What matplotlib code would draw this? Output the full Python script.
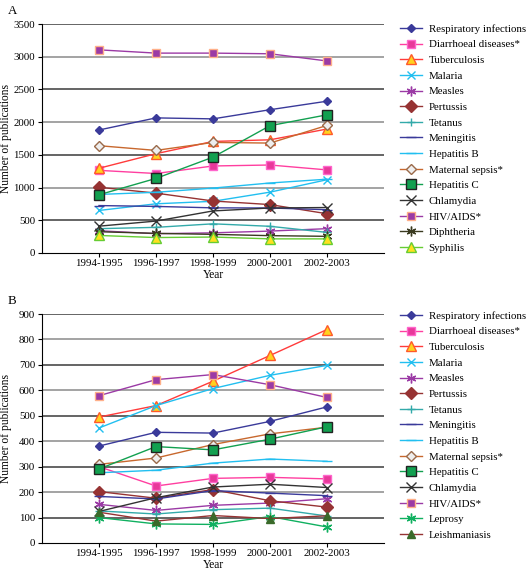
import matplotlib

matplotlib.use("Agg")
import matplotlib.pyplot as plt

plt.rcParams["font.family"] = ["Liberation Serif", "DejaVu Serif"]

YEARS = ["1994-1995", "1996-1997", "1998-1999", "2000-2001", "2002-2003"]

# Panel A: number of publications per disease
A_NAMES = ["Respiratory infections", "Diarrhoeal diseases*", "Tuberculosis", "Malaria",
           "Measles", "Pertussis", "Tetanus", "Meningitis", "Hepatitis B",
           "Maternal sepsis*", "Hepatitis C", "Chlamydia", "HIV/AIDS*", "Diphtheria",
           "Syphilis"]
a_respiratory = [1880, 2065, 2050, 2190, 2320]
a_diarrhoeal = [1263, 1215, 1330, 1345, 1270]
a_tuberculosis = [1295, 1518, 1705, 1730, 1895]
a_malaria = [650, 752, 790, 930, 1120]
a_measles = [340, 295, 308, 335, 372]
a_pertussis = [1005, 915, 795, 740, 600]
a_tetanus = [372, 392, 446, 408, 315]
a_meningitis = [725, 712, 690, 688, 662]
a_hepatitis_b = [895, 928, 992, 1070, 1128]
a_maternal = [1640, 1568, 1690, 1680, 1950]
a_hepatitis_c = [890, 1140, 1465, 1946, 2112]
a_chlamydia = [410, 488, 643, 688, 695]
a_hiv = [3105, 3055, 3055, 3045, 2935]
a_diphtheria = [325, 300, 285, 265, 255]
a_syphilis = [268, 236, 244, 216, 216]
A_VALUES = [a_respiratory, a_diarrhoeal, a_tuberculosis, a_malaria, a_measles,
            a_pertussis, a_tetanus, a_meningitis, a_hepatitis_b, a_maternal,
            a_hepatitis_c, a_chlamydia, a_hiv, a_diphtheria, a_syphilis]

# Panel B
B_NAMES = ["Respiratory infections", "Diarrhoeal diseases*", "Tuberculosis", "Malaria",
           "Measles", "Pertussis", "Tetanus", "Meningitis", "Hepatitis B",
           "Maternal sepsis*", "Hepatitis C", "Chlamydia", "HIV/AIDS*", "Leprosy",
           "Leishmaniasis"]
b_respiratory = [381, 435, 432, 478, 535]
b_diarrhoeal = [300, 224, 254, 258, 252]
b_tuberculosis = [495, 540, 636, 737, 839]
b_malaria = [452, 540, 607, 659, 698]
b_measles = [152, 128, 148, 157, 174]
b_pertussis = [202, 176, 210, 166, 141]
b_tetanus = [126, 114, 131, 137, 106]
b_meningitis = [183, 173, 206, 196, 186]
b_hepatitis_b = [276, 286, 314, 330, 321]
b_maternal = [309, 334, 387, 429, 455]
b_hepatitis_c = [291, 379, 366, 408, 457]
b_chlamydia = [124, 178, 220, 231, 218]
b_hiv = [579, 642, 662, 622, 572]
b_leprosy = [100, 75, 73, 104, 63]
b_leishmaniasis = [121, 86, 108, 96, 107]
B_VALUES = [b_respiratory, b_diarrhoeal, b_tuberculosis, b_malaria, b_measles,
            b_pertussis, b_tetanus, b_meningitis, b_hepatitis_b, b_maternal,
            b_hepatitis_c, b_chlamydia, b_hiv, b_leprosy, b_leishmaniasis]

# (line colour, marker, face colour, edge colour, marker size)
STYLE = {
    "Respiratory infections": ("#3a3a9a", "D", "#3a3a9a", "#3a3a9a", 4.5),
    "Diarrhoeal diseases*": ("#ff3fa0", "s", "#e8389a", "#ff66cc", 6),
    "Tuberculosis": ("#ff3b3b", "^", "#ffd21f", "#ff5a2a", 6.5),
    "Malaria": ("#22bff0", "x", "#22bff0", "#22bff0", 6),
    "Measles": ("#9b3aa5", (6, 2, 0), "#9b3aa5", "#9b3aa5", 7),
    "Pertussis": ("#963333", "D", "#963333", "#963333", 6),
    "Tetanus": ("#33aaaa", "+", "#33aaaa", "#33aaaa", 6),
    "Meningitis": ("#3a3a9a", "_", "#3a3a9a", "#3a3a9a", 7),
    "Hepatitis B": ("#22bff0", "_", "#22bff0", "#22bff0", 7),
    "Maternal sepsis*": ("#c8682e", "D", "#eeeeee", "#9a6a4a", 5.5),
    "Hepatitis C": ("#12a050", "s", "#12a050", "#222222", 6.5),
    "Chlamydia": ("#333333", "x", "#333333", "#333333", 6.5),
    "HIV/AIDS*": ("#9b3aa5", "s", "#9b3aa5", "#ffb08a", 5.5),
    "Diphtheria": ("#3a3a20", (6, 2, 0), "#3a3a20", "#3a3a20", 7),
    "Syphilis": ("#66cc33", "^", "#ffe01f", "#66cc33", 6.5),
    "Leprosy": ("#10b060", (6, 2, 0), "#10b060", "#10b060", 7),
    "Leishmaniasis": ("#963333", "^", "#3a6a2a", "#3a6a2a", 6),
}

FS = 7.8


def draw_panel(fig, rect, names, values, ymax, step, letter, leg_y):
    ax = fig.add_axes(rect)
    xs = list(range(1, len(YEARS) + 1))
    for name, ys in zip(names, values):
        color, marker, face, edge, ms = STYLE[name]
        ax.plot(xs, ys, color=color, linewidth=1.0, marker=marker, markersize=ms,
                markerfacecolor=face, markeredgecolor=edge, markeredgewidth=1.0,
                label=name, zorder=3)
    ax.set_xlim(0, 6)
    ax.set_ylim(0, ymax)
    ax.set_xticks(xs)
    ax.set_xticklabels(YEARS, fontsize=FS)
    ticks = list(range(0, ymax + 1, step))
    ax.set_yticks(ticks)
    ax.tick_params(axis="y", labelsize=FS, length=3, direction="out", pad=2)
    ax.tick_params(axis="x", length=3, direction="out", pad=1.5)
    for i, t in enumerate(ticks[1:]):
        col = "#8a8a8a" if i % 2 else "#3a3a3a"
        ax.axhline(t, color=col, linewidth=1.1, zorder=1)
    for side in ("top", "right"):
        ax.spines[side].set_visible(False)
    ax.set_ylabel("Number of publications", fontsize=FS + 0.5)
    ax.yaxis.set_label_coords(-0.088, 0.5)
    ax.set_xlabel("Year", fontsize=FS + 0.5, va="center")
    ax.xaxis.set_label_coords(0.5, -0.094)
    fig.text(0.014, rect[1] + rect[3] + 0.012, letter, fontsize=FS + 1.5, va="bottom")
    ax.legend(loc="upper left", bbox_to_anchor=(0.757, leg_y), bbox_transform=fig.transFigure,
              frameon=False, fontsize=FS, handlelength=2.0, handletextpad=0.6,
              labelspacing=0.56, borderaxespad=0, borderpad=0)
    return ax


fig = plt.figure(figsize=(5.29, 5.72), dpi=100)
W, H = 529, 572
draw_panel(fig, [42 / W, 1 - 253 / H, 342 / W, 229 / H], A_NAMES, A_VALUES, 3500, 500, "A",
           1 - 24 / H)
draw_panel(fig, [42 / W, 1 - 543 / H, 342 / W, 229 / H], B_NAMES, B_VALUES, 900, 100, "B",
           1 - 311 / H)
fig.savefig("out.png", dpi=100)
